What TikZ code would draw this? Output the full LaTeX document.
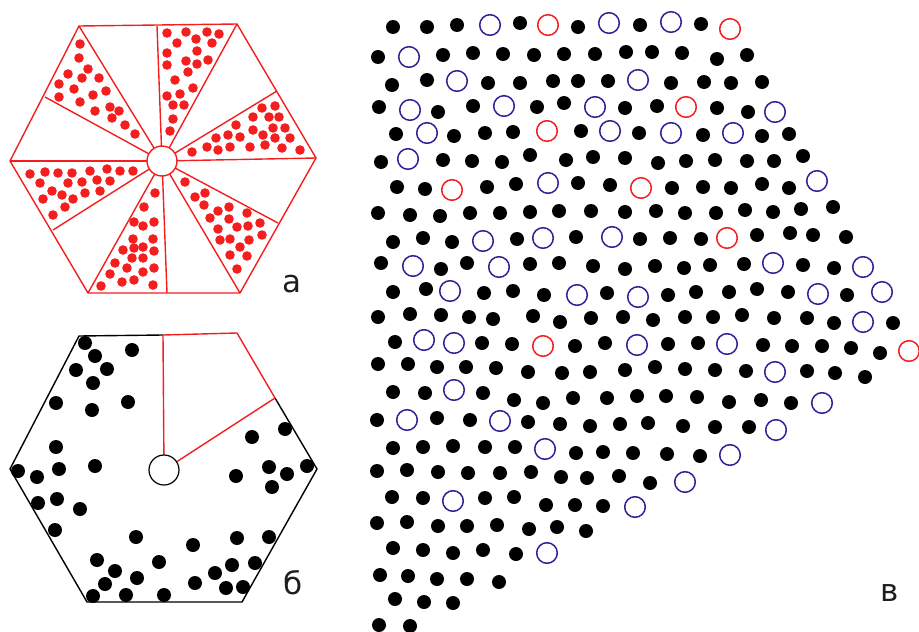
\documentclass[tikz,border=0pt]{standalone}
\usepackage{fontspec}
\newfontfamily\lblfont{DejaVu Sans}
\definecolor{myred}{RGB}{245,30,30}
\definecolor{myblue}{RGB}{45,35,150}
\definecolor{lbl}{RGB}{30,30,30}
\begin{document}
\begin{tikzpicture}[x=1pt,y=-1pt,
  rdot/.style={fill=myred},
  kdot/.style={fill=black},
  bring/.style={draw=myblue,line width=1.5pt},
  rring/.style={draw=myred,line width=1.5pt},
  hexred/.style={draw=myred,line width=1.4pt,line join=round},
  hexblack/.style={draw=black,line width=1.4pt,line join=round},
  lab/.style={font=\lblfont\fontsize{31}{31}\selectfont,text=lbl,inner sep=0pt}]
\useasboundingbox (0,0) rectangle (919,632);
% ---------------- panel a ----------------
\coordinate (ca) at (162,161);
\foreach \p in {(157,26),(237,24),(277,91),(316,158),(278,223),(240,293),(167,293),(88,293),(53,230),(10,161),(45,97),(79,26)}
  \draw[hexred] (ca) -- \p;
\draw[hexred] (79,26) -- (237,24) -- (316,158) -- (240,293) -- (88,293) -- (10,161) -- cycle;
\filldraw[hexred,fill=white] (ca) circle (15);
\foreach \x/\y in {167/33,186/32,207/32,219/34,177/43,196/39,212/43,167/53,197/51,186/61,208/60,167/65,197/64,188/72,175/80,193/88,167/96,180/94,173/105,184/105,173/119,170/131,
262/108,275/106,253/117,269/117,279/117,236/125,253/130,273/128,285/128,216/138,228/135,240/137,263/135,275/138,290/138,207/147,218/150,230/147,250/147,265/145,282/148,300/150,192/152,
185/182,195/197,205/193,204/205,218/211,229/207,210/218,229/219,247/213,260/223,218/229,237/227,248/226,220/240,230/239,249/240,262/235,240/247,230/255,247/256,237/269,
155/193,144/207,134/222,143/226,154/222,133/239,153/239,123/250,134/248,143/247,154/251,115/263,132/258,143/258,127/268,143/272,154/268,110/274,122/282,134/280,153/285,101/286,
30/174,45/172,58/173,72/173,90/171,107/169,120/171,133/171,40/183,52/191,68/183,82/182,97/180,110/181,43/199,62/195,73/199,85/193,100/191,65/207,53/215,
80/44,79/58,88/69,68/74,82/78,99/78,59/84,74/89,93/95,106/91,59/97,80/102,95/111,110/107,119/111,112/118,125/125,135/134}
  \fill[rdot] (\x,\y) circle (4.8);
\node[lab] (la) at (292,284) {а};
% ---------------- panel b ----------------
\coordinate (cb) at (164,470);
\draw[hexblack] (163,335) -- (79,336) -- (10,469) -- (87,602) -- (242,602) -- (317,469) -- (275,398);
\draw[hexred] (163,335) -- (237,333) -- (275,398);
\draw[hexred] (cb) -- (163,335);
\draw[hexred] (cb) -- (275,398);
\filldraw[draw=black,line width=1.2pt,fill=white] (cb) circle (15);
\foreach \x/\y in {85/343,132/350,95/356,76/370,107/369,93/383,56/403,92/410,128/402,56/447,95/466,18/471,37/477,59/469,38/503,57/499,80/509,55/530,136/537,97/560,115/571,105/584,137/578,159/562,93/596,126/595,164/595,193/545,195/583,215/573,232/565,226/588,243/587,255/563,237/538,269/537,252/437,285/429,269/467,287/474,307/466,272/487,236/476}
  \fill[kdot] (\x,\y) circle (7);
\node[lab] (lb) at (293,583) {б};
% ---------------- panel v ----------------
% black dots
\foreach \x/\y in {
393/27,427/27,457/25,520/23,578/27,640/25,701/24,
378/57,443/55,473/53,503/54,534/55,564/54,595/54,626/52,652/52,682/53,717/59,747/55,
392/85,427/80,488/83,520/83,553/81,578/81,608/81,671/83,704/82,731/83,762/82,
379/107,438/112,473/106,537/107,564/103,625/108,657/106,717/108,748/112,
396/134,454/136,485/133,513/132,581/131,639/133,703/135,762/136,789/134,
381/162,443/160,472/161,502/162,530/155,566/160,593/157,625/158,658/163,686/161,715/160,747/161,774/161,803/156,
397/187,425/189,487/187,516/184,578/183,610/185,672/188,703/187,731/188,762/184,789/188,
378/213,410/215,440/216,470/213,500/213,530/212,559/211,591/211,625/212,656/211,685/213,716/213,745/210,773/212,801/209,833/207,
393/242,423/238,452/242,517/239,576/237,640/239,670/238,701/239,757/235,790/233,813/235,846/237,
381/263,441/269,467/263,530/264,559/263,593/266,625/269,655/266,684/268,710/265,744/264,803/265,834/268,
393/292,426/289,484/293,513/291,544/295,607/293,668/295,696/292,729/292,757/289,788/292,847/295,
378/317,410/314,441/315,469/317,493/319,533/316,560/322,591/318,623/317,653/320,685/317,713/317,742/315,774/318,807/318,834/323,893/323,
395/342,482/343,512/344,575/346,605/343,668/344,698/343,763/345,792/346,822/346,851/348,880/353,
378/364,408/364,437/367,466/367,496/368,528/372,562/373,590/372,625/370,655/367,685/369,715/370,746/371,807/371,835/373,865/377,
393/392,425/393,483/393,514/400,543/403,573/398,607/398,637/396,666/396,697/397,729/402,761/400,791/403,
377/420,437/418,470/420,528/422,560/424,590/426,620/424,648/423,683/426,715/427,749/427,
393/448,423/447,453/446,485/447,515/447,576/453,603/452,633/453,667/454,700/456,
377/471,407/470,438/472,468/473,500/473,531/472,561/477,587/478,619/476,650/483,
392/497,423/498,485/498,514/497,546/505,575/505,603/506,
377/523,407/522,438/526,467/526,497/525,529/529,557/527,586/531,
393/548,423/550,453/553,483/550,516/554,
380/575,408/576,437/579,467/579,499/582,
395/599,424/602,453/603,
379/625,410/626}
  \fill[kdot] (\x,\y) circle (7);
% blue rings
\foreach \x/\y in {490/25,609/23,671/22,409/57,457/81,638/80,410/110,504/106,595/107,775/112,427/133,610/131,671/133,733/133,408/159,548/183,817/181,483/241,543/238,612/237,413/266,499/267,773/263,863/267,450/291,577/295,638/297,818/294,882/292,863/322,424/340,454/343,637/345,727/344,775/372,454/390,822/403,407/420,500/421,776/430,545/449,730/455,685/482,453/501,635/507,547/553}
  \draw[bring] (\x,\y) circle (10.3);
% red rings
\foreach \x/\y in {548/25,730/29,547/131,686/107,452/190,641/188,727/238,543/346,909/351}
  \draw[rring] (\x,\y) circle (10.3);
\node[lab] (lv) at (890,593) {в};
\end{tikzpicture}
\end{document}
